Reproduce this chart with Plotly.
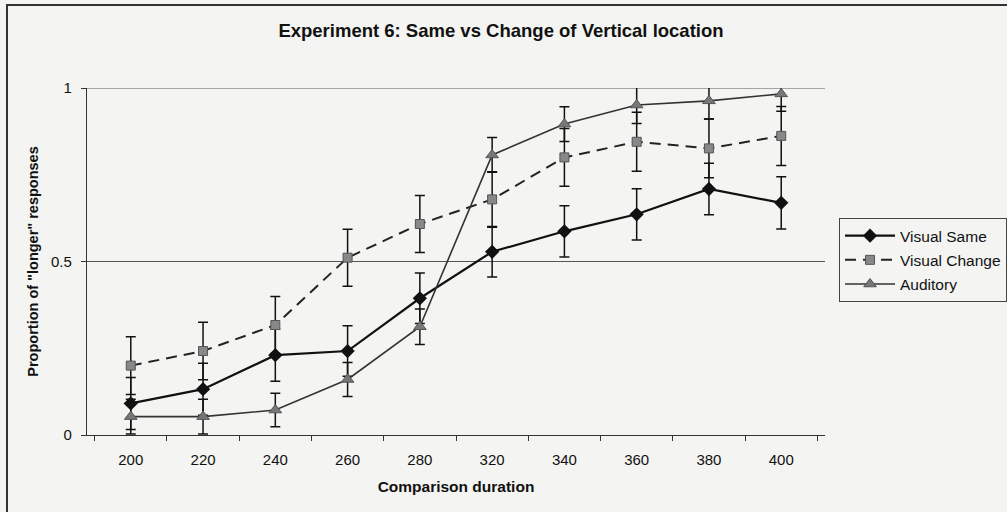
import plotly.graph_objects as go

# comparison durations (categories)
durations = ["200", "220", "240", "260", "280", "320", "340", "360", "380", "400"]

# proportion of "longer" responses
visual_same = [0.091, 0.132, 0.230, 0.242, 0.394, 0.528, 0.587, 0.636, 0.709, 0.669]
visual_change = [0.200, 0.242, 0.317, 0.511, 0.608, 0.679, 0.800, 0.845, 0.826, 0.862]
auditory = [0.053, 0.053, 0.072, 0.160, 0.312, 0.807, 0.896, 0.951, 0.963, 0.983]

# error bar half-widths
visual_same_err = [0.075, 0.075, 0.075, 0.073, 0.073, 0.073, 0.074, 0.074, 0.074, 0.075]
visual_change_err = [0.083, 0.083, 0.082, 0.082, 0.082, 0.080, 0.083, 0.085, 0.085, 0.085]
auditory_err = [0.050, 0.050, 0.048, 0.049, 0.051, 0.050, 0.050, 0.053, 0.052, 0.050]

y_ticks = [0, 0.5, 1]
y_tick_labels = ["0", "0.5", "1"]

FONT = "Arial, Liberation Sans, Helvetica, sans-serif"
BG = "#f4f4f2"


def err(vals):
  return dict(type="data", array=vals, visible=True, color="#111111",
              thickness=1.5, width=5)


fig = go.Figure()

fig.add_trace(go.Scatter(x=durations, y=visual_same, name="Visual Same",
                         legendgroup="a", mode="lines+markers",
                         line=dict(color="#111111", width=2.2),
                         marker=dict(symbol="diamond", size=11, color="#111111"),
                         error_y=err(visual_same_err)))

fig.add_trace(go.Scatter(x=durations, y=visual_change, name="Visual Change",
                         legendgroup="b", mode="lines+markers",
                         line=dict(color="#222222", width=2, dash="11px,7px"),
                         marker=dict(symbol="square", size=9, color="#888888",
                                     line=dict(color="#555555", width=1)),
                         error_y=err(visual_change_err)))

fig.add_trace(go.Scatter(x=durations, y=auditory, name="Auditory",
                         legendgroup="c", mode="lines+markers",
                         line=dict(color="#333333", width=1.6),
                         marker=dict(symbol="triangle-up", size=11, color="#777777",
                                     line=dict(color="#555555", width=1)),
                         error_y=err(auditory_err)))

## outer frame of the scanned figure
fig.add_shape(type="rect", xref="paper", yref="paper",
              x0=-0.1084, x1=1.26, y0=-0.25, y1=1.239,
              line=dict(color="#333333", width=2), layer="below")

## top gridline at 1 (sits on the plot edge)
fig.add_shape(type="line", xref="paper", yref="y", x0=0, x1=1, y0=1, y1=1,
              line=dict(color="#555555", width=1.2), layer="below")

fig.update_layout(
  width=1007,
  height=512,
  margin=dict(l=87, r=182, t=88, b=77, autoexpand=False),
  paper_bgcolor=BG,
  plot_bgcolor=BG,
  font=dict(family=FONT, color="#111111", size=15),
  title=dict(text="<b>Experiment 6: Same vs Change of Vertical location</b>",
             x=0.4975, xanchor="center", xref="container", y=1 - 31 / 512,
             yanchor="middle", font=dict(size=18.5)),
  legend=dict(x=1.019, xanchor="left", y=0.625, yanchor="top",
              bgcolor=BG, bordercolor="#444444", borderwidth=1,
              font=dict(size=15.5), itemwidth=50, tracegroupgap=1),
  showlegend=True,
)

fig.update_xaxes(type="category", showgrid=False, showline=True, automargin=False,
                 linecolor="#333333", linewidth=1.3,
                 ticks="outside", tickson="boundaries", ticklen=5,
                 tickcolor="#333333", ticklabelstandoff=11,
                 title=dict(text="<b>Comparison duration</b>",
                            font=dict(size=15.5), standoff=13))

fig.update_yaxes(range=[0, 1], tickvals=y_ticks, ticktext=y_tick_labels,
                 showgrid=True, gridcolor="#555555", gridwidth=1.2, automargin=False,
                 zeroline=False, showline=True, linecolor="#333333",
                 linewidth=1.3, ticks="outside", ticklen=5,
                 tickcolor="#333333", ticklabelstandoff=6,
                 title=dict(text='<b>Proportion of "longer" responses</b>',
                            font=dict(size=14.5), standoff=8))

# drop the default page margin so the figure sits at the window corner
fig.write_html("out.html", config={"displayModeBar": False},
               post_script="document.body.style.margin = '0';")
